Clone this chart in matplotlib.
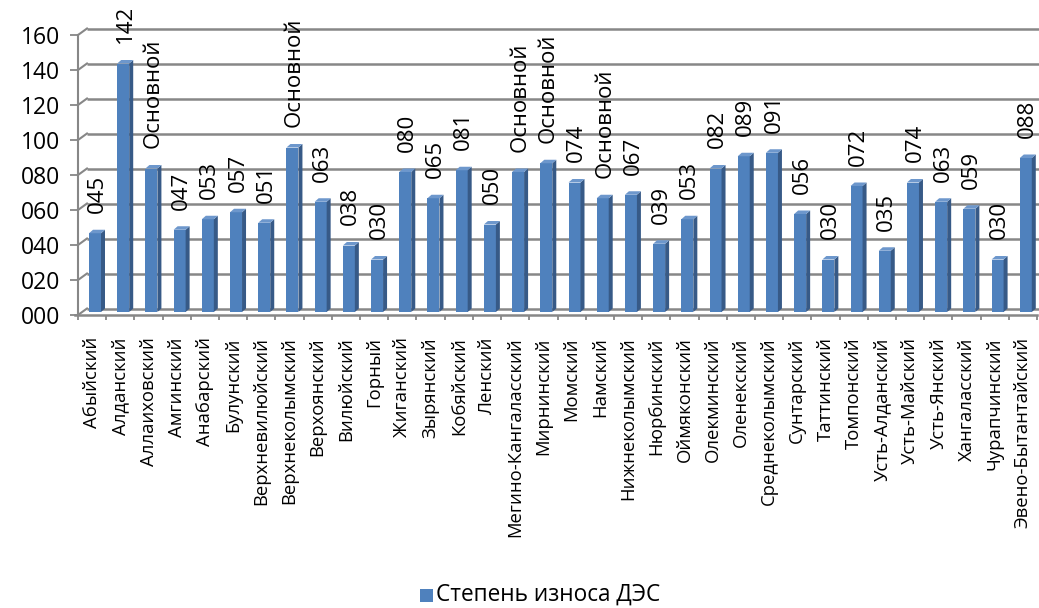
import matplotlib
matplotlib.use("Agg")
import matplotlib.pyplot as plt
from matplotlib.patches import Rectangle, Polygon

plt.rcParams['font.family'] = ['Open Sans', 'DejaVu Sans']

# --- data -------------------------------------------------------------
districts = [
    "Абыйский", "Алданский", "Аллаиховский", "Амгинский", "Анабарский",
    "Булунский", "Верхневилюйский", "Верхнеколымский", "Верхоянский",
    "Вилюйский", "Горный", "Жиганский", "Зырянский", "Кобяйский", "Ленский",
    "Мегино-Кангаласский", "Мирнинский", "Момский", "Намский",
    "Нижнеколымский", "Нюрбинский", "Оймяконский", "Олекминский",
    "Оленекский", "Среднеколымский", "Сунтарский", "Таттинский",
    "Томпонский", "Усть-Алданский", "Усть-Майский", "Усть-Янский",
    "Хангаласский", "Чурапчинский", "Эвено-Бытантайский",
]
wear = [45, 142, 82, 47, 53, 57, 51, 94, 63, 38, 30, 80, 65, 81, 50,
        80, 85, 74, 65, 67, 39, 53, 82, 89, 91, 56, 30, 72, 35, 74, 63,
        59, 30, 88]
# districts whose label shows the plant type instead of the number
main_plant = {"Аллаиховский", "Верхнеколымский", "Мегино-Кангаласский",
              "Мирнинский", "Намский"}
main_text = "Основной"
series_name = "Степень износа ДЭС"
y_ticks = list(range(0, 161, 20))

# --- figure / geometry -----------------------------------------------
W, H = 1039, 608
fig = plt.figure(figsize=(W / 100, H / 100), dpi=100)
ax_left, ax_bottom_px, ax_w, ax_h = 78, 315, 959, 280
ax = fig.add_axes([ax_left / W, (H - ax_bottom_px) / H, ax_w / W, ax_h / H])
n = len(districts)
ax.set_xlim(0, n)
ax.set_ylim(0, 160)
ax.patch.set_alpha(0)
for s in ax.spines.values():
    s.set_visible(False)

ux = n / ax_w          # data units per pixel (x)
uy = 160 / ax_h        # data units per pixel (y)

grid_col = "#878787"
wall_dx, wall_dy = 9 * ux, 6.5 * uy

# back wall gridlines and left wall diagonals
for v in y_ticks:
    ax.plot([wall_dx, n + wall_dx], [v + wall_dy, v + wall_dy],
            color=grid_col, lw=1.8, clip_on=False, zorder=1,
            solid_capstyle='butt')
    ax.plot([0, wall_dx], [v, v + wall_dy], color=grid_col, lw=1.5,
            clip_on=False, zorder=1)
# front axis lines
ax.plot([0, 0], [0, 160], color=grid_col, lw=1.5, clip_on=False, zorder=1)
ax.plot([-3 * ux, n], [0, 0], color=grid_col, lw=1.8, clip_on=False, zorder=1)

# --- 3D-looking bars ---------------------------------------------------
face_col, side_col, top_col = "#4f81bd", "#375a87", "#6d97cc"
face_off, face_w = 11 * ux, 12 * ux
base = 3 * uy
dep_x, dep_y = 4 * ux, 3.5 * uy
xs = [i + face_off for i in range(n)]
ax.bar(xs, wear, width=face_w, bottom=base, align='edge',
       color=face_col, edgecolor='none', zorder=3)
for x0, v in zip(xs, wear):
    x1 = x0 + face_w
    side = Polygon([(x1, base), (x1 + dep_x, base + dep_y),
                    (x1 + dep_x, base + v + dep_y), (x1, base + v)],
                   closed=True, facecolor=side_col, edgecolor='none', zorder=3)
    top = Polygon([(x0, base + v), (x1, base + v),
                   (x1 + dep_x, base + v + dep_y), (x0 + dep_x, base + v + dep_y)],
                  closed=True, facecolor=top_col, edgecolor='none', zorder=3)
    ax.add_patch(side)
    ax.add_patch(top)

# value labels
for i, (name, v) in enumerate(zip(districts, wear)):
    txt = main_text if name in main_plant else f"{v:03d}"
    ax.annotate(txt, xy=(i + 19 * ux, base + v), xytext=(0, 14.5),
                textcoords='offset points', rotation=90,
                ha='center', va='bottom', fontsize=16, color='black',
                zorder=4, annotation_clip=False)

# --- axes ticks and labels ---------------------------------------------
ax.set_yticks(y_ticks)
ax.set_yticklabels([f"{v:03d}" for v in y_ticks])
ax.tick_params(axis='y', length=5.8, width=1.3, color=grid_col,
               labelsize=16.5, pad=7, labelcolor='black')

ax.set_xticks([i + 0.5 for i in range(n)])
ax.set_xticklabels(districts, rotation=90, ha='center', va='top',
                   fontsize=13.3, color='black')
ax.set_xticks(range(n + 1), minor=True)
ax.tick_params(axis='x', which='major', length=0, pad=16)
ax.tick_params(axis='x', which='minor', length=3.6, width=1.3,
               color=grid_col, direction='out')

# --- legend ------------------------------------------------------------
fig.patches.append(Rectangle((420 / W, (H - 602) / H), 13 / W, 13 / H,
                             transform=fig.transFigure, facecolor=face_col,
                             edgecolor='none'))
fig.text(436 / W, (H - 595) / H, series_name, ha='left', va='center',
         fontsize=16.3, color='black')

fig.savefig("out.png", dpi=100)
